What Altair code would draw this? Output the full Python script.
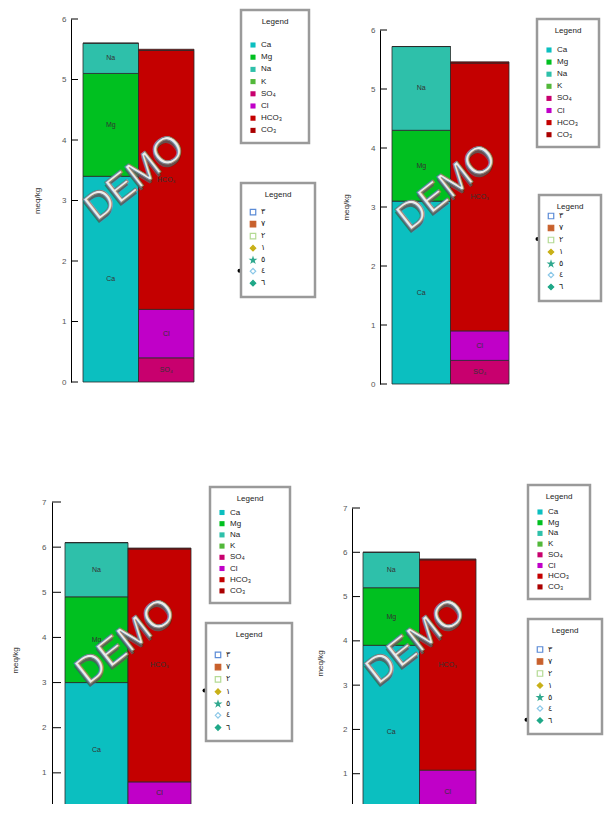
import altair as alt
import pandas as pd

# ---------------- data ----------------
ion_names = ["Ca", "Mg", "Na", "K", "SO₄", "Cl", "HCO₃", "CO₃"]
ion_side = ["Cations", "Cations", "Cations", "Cations", "Anions", "Anions", "Anions", "Anions"]
bar_order = ["Cations", "Anions"]

sample_names = ["٣", "٧", "٢", "١", "٥", "٤", "٦"]

panel_sample = ["٤", "٢", "١", "٦"]
ca_vals = [3.40, 3.10, 3.00, 3.90]
mg_vals = [1.70, 1.20, 1.90, 1.30]
na_vals = [0.50, 1.42, 1.20, 0.80]
k_vals = [0.00, 0.00, 0.00, 0.00]
so4_vals = [0.40, 0.40, 0.30, 0.08]
cl_vals = [0.80, 0.50, 0.50, 1.00]
hco3_vals = [4.28, 4.54, 5.16, 4.75]
co3_vals = [0.02, 0.02, 0.02, 0.02]
y_max = [6, 6, 7, 7]

# ---------------- styles ----------------
ion_colors = ["#0bbfc0", "#00c020", "#2ec0aa", "#52b83a", "#c8006e", "#c000c8", "#c40000", "#aa0000"]
STAR = ("M0,-1L0.2245,-0.309L0.951,-0.309L0.3633,0.118L0.5878,0.809L0,0.382"
        "L-0.5878,0.809L-0.3633,0.118L-0.951,-0.309L-0.2245,-0.309Z")
sample_shapes = ["square", "square", "square", "diamond", STAR, "diamond", "diamond"]
sample_strokes = ["#5b8bd6", "#c8602c", "#b4da94", "#c8b018", "#30a88e", "#8cc8e8", "#1fa888"]
sample_fills = ["#ffffff", "#c8602c", "#ffffff", "#c8b018", "#30a88e", "#ffffff", "#1fa888"]

FONT = "Liberation Sans"
LEG_PAD = 8
LEG_FS = 8
BLANK = "\u2800"
BLANK_W = 6.2
ENTRY2_H = 11.8      # measured row height of the sample legend
ENTRY2_FIRST = 19.5  # offset of its first row centre below the title padding

layout = [
    dict(w=315, h=452, xr=[75, 186], yr=[374, 11], ax=63, tl=7, tx=29, lp=5,
         l1=dict(x=233, y=2, w=71, base=50, tp=15, rp=4.2),
         l2=dict(x=233, y=175, w=71, base=30.5, tp=9.2, rp=0),
         demo=(127, 170)),
    dict(w=281, h=452, xr=[69, 186], yr=[376, 22], ax=57, tl=7, tx=23, lp=5,
         l1=dict(x=214, y=11, w=64, base=50, tp=11, rp=4.1),
         l2=dict(x=216, y=187, w=62, base=30.5, tp=1, rp=0),
         demo=(124, 180)),
    dict(w=297, h=344, xr=[57, 183], yr=[358, 42], ax=44, tl=9, tx=7, lp=6,
         l1=dict(x=202, y=27, w=80, base=50, tp=5.5, rp=3.2),
         l2=dict(x=198, y=163, w=89, base=30.5, tp=11.8, rp=0.3),
         demo=(118, 182)),
    dict(w=299, h=344, xr=[58, 171], yr=[358, 48], ax=47, tl=8, tx=15, lp=5,
         l1=dict(x=223, y=25, w=62, base=50, tp=7, rp=2.7),
         l2=dict(x=223, y=159, w=74, base=30.5, tp=10.5, rp=0),
         demo=(111, 182)),
]


def make_legend(p, sym_type=None, sym_stroke=0.0, sym_size=26):
    n = max(0, round((p["w"] - p["base"]) / BLANK_W))
    kw = dict(
        title="Legend", orient="none", legendX=p["x"], legendY=p["y"],
        direction="vertical", symbolSize=sym_size, symbolStrokeWidth=sym_stroke,
        symbolOpacity=1, labelFontSize=LEG_FS, labelColor="#222", labelFont=FONT,
        labelExpr="datum.label + '" + BLANK * n + "'",
        titleFontSize=LEG_FS, titleFontWeight="normal", titleColor="#222", titleFont=FONT,
        titleAnchor="middle", titlePadding=p["tp"], rowPadding=p["rp"], padding=LEG_PAD,
        fillColor="white", strokeColor="#9a9a9a", labelOffset=4,
    )
    if sym_type:
        kw["symbolType"] = sym_type
    return alt.Legend(**kw)


def panel(i):
    L = layout[i]
    ymax = y_max[i]
    vals = [ca_vals[i], mg_vals[i], na_vals[i], k_vals[i],
            so4_vals[i], cl_vals[i], hco3_vals[i], co3_vals[i]]
    df = pd.DataFrame({"ion": ion_names, "bar": ion_side, "value": vals})
    df["y1"] = df.groupby("bar")["value"].cumsum()
    df["y0"] = df["y1"] - df["value"]
    df["mid"] = (df["y0"] + df["y1"]) / 2

    # vertical mapping: the plot may be cut off at the bottom of the page
    ppu = (L["yr"][0] - L["yr"][1]) / ymax
    if L["yr"][0] > L["h"]:
        lo = (L["yr"][0] - L["h"]) / ppu
        yrange = [L["h"], L["yr"][1]]
    else:
        lo = 0
        yrange = [L["yr"][0], L["yr"][1]]
    tick_vals = [t for t in range(ymax + 1) if t >= lo]
    lab = df[(df["value"] >= 0.25) & (df["mid"] >= lo + 0.12)]

    xs = alt.Scale(domain=bar_order, range=L["xr"], paddingInner=0, paddingOuter=0)
    ys = alt.Scale(domain=[lo, ymax], range=yrange, nice=False, zero=False)
    yaxis = alt.Axis(
        title="meq/kg", values=tick_vals, format="d", offset=-L["ax"],
        ticks=False, tickSize=0, labelPadding=L["lp"], labelFontSize=8, labelColor="#555",
        labelFont=FONT, domainColor="#000", domainWidth=1, grid=False,
        titleFontSize=8, titleFontWeight="normal", titleColor="#333", titleFont=FONT,
        titleX=L["tx"] - L["ax"], titleY=(L["yr"][0] + L["yr"][1]) / 2,
        titleAngle=270, titleAlign="center", titleBaseline="middle",
    )
    color_scale = alt.Scale(domain=ion_names, range=ion_colors)

    bars = alt.Chart(df).mark_bar(stroke="#2a2a2a", strokeWidth=0.8, clip=True).encode(
        x=alt.X("bar:N", scale=xs, axis=None),
        y=alt.Y("y0:Q", scale=ys, axis=yaxis),
        y2="y1:Q",
        color=alt.Color("ion:N", scale=color_scale,
                        legend=make_legend(L["l1"], sym_type="square", sym_stroke=0, sym_size=26)),
    )

    labels = alt.Chart(lab).mark_text(fontSize=7, color="#333", font=FONT, clip=True).encode(
        x=alt.X("bar:N", scale=xs, axis=None),
        y=alt.Y("mid:Q", scale=ys, axis=yaxis),
        text="ion:N",
    )

    ticks = alt.Chart(pd.DataFrame({"t": tick_vals})).mark_rule(
        color="#000", strokeWidth=1).encode(
        y=alt.Y("t:Q", scale=ys, axis=yaxis),
        x=alt.value(L["ax"]),
        x2=alt.value(L["ax"] + L["tl"]),
    )

    leg2 = make_legend(L["l2"], sym_stroke=1.2, sym_size=30)
    sdf = pd.DataFrame({"sample": sample_names})
    pts = alt.Chart(sdf).mark_point(filled=True, opacity=0, size=30).encode(
        x=alt.value(40), y=alt.value(40),
        shape=alt.Shape("sample:N", scale=alt.Scale(domain=sample_names, range=sample_shapes), legend=leg2),
        fill=alt.Fill("sample:N", scale=alt.Scale(domain=sample_names, range=sample_fills), legend=leg2),
        stroke=alt.Stroke("sample:N", scale=alt.Scale(domain=sample_names, range=sample_strokes), legend=leg2),
    )

    # marker of the current sample next to its entry in the sample legend
    p2 = L["l2"]
    idx = sample_names.index(panel_sample[i])
    dot_y = p2["y"] + p2["tp"] + ENTRY2_FIRST + idx * (ENTRY2_H + p2["rp"])
    one = pd.DataFrame({"k": [0]})
    dot = alt.Chart(one).mark_point(filled=True, color="black", size=16, opacity=1).encode(
        x=alt.value(p2["x"] - 1.5), y=alt.value(dot_y))

    cx, cy = L["demo"]
    shadow = alt.Chart(one).mark_text(
        text="DEMO", angle=322, fontSize=38, font=FONT, fill="#5a5a5a", opacity=0.85,
        align="center", baseline="middle", dx=-2, dy=2.5).encode(x=alt.value(cx), y=alt.value(cy))
    demo = alt.Chart(one).mark_text(
        text="DEMO", angle=322, fontSize=38, font=FONT, fill="#ececec", stroke="#808080",
        strokeWidth=1, align="center", baseline="middle").encode(x=alt.value(cx), y=alt.value(cy))

    return alt.layer(bars, labels, ticks, shadow, demo, pts, dot).properties(
        width=L["w"], height=L["h"])


res_scales = dict(color="independent", shape="independent", fill="independent",
                  stroke="independent", x="independent", y="independent")
res_leg = dict(color="independent", shape="independent", fill="independent", stroke="independent")

row1 = alt.hconcat(panel(0), panel(1), spacing=0).resolve_scale(**res_scales).resolve_legend(**res_leg)
row2 = alt.hconcat(panel(2), panel(3), spacing=0).resolve_scale(**res_scales).resolve_legend(**res_leg)

chart = alt.vconcat(row1, row2, spacing=0).resolve_scale(**res_scales).resolve_legend(**res_leg).properties(
    padding=0
).configure(font=FONT).configure_view(strokeWidth=0).configure_legend(strokeWidth=2.5)

chart.save("out.html", embed_options={"renderer": "svg", "actions": False})
